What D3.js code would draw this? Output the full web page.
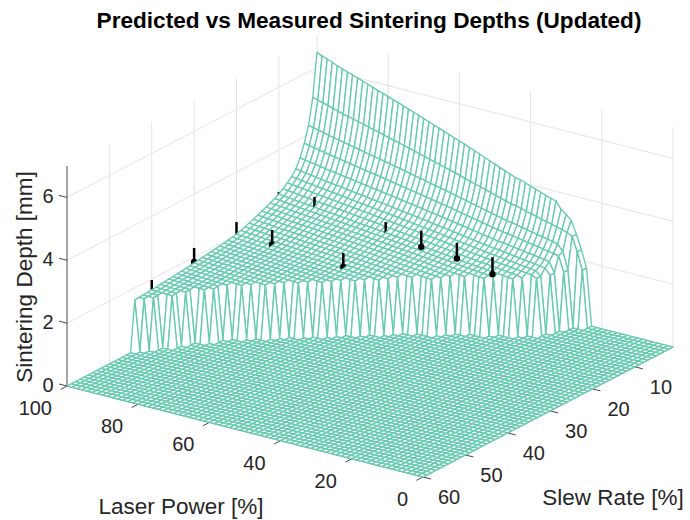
<!DOCTYPE html>
<html>
<head>
<meta charset="utf-8">
<script src="https://cdnjs.cloudflare.com/ajax/libs/d3/7.8.5/d3.min.js"></script>
<style>
html,body{margin:0;padding:0;background:#fff}
svg{display:block}
text{font-family:"Liberation Sans",Arial,sans-serif;fill:#262626}
</style>
</head>
<body>
<script>
// Tick labels
const powerTicks = [100, 80, 60, 40, 20, 0];
const slewTicks = [60, 50, 40, 30, 20, 10];
const depthTicks = [0, 2, 4, 6];

// Mesh grid lines (ascending): 71 laser power levels, 60 slew rates
const powerLevels = d3.range(0, 71).map(k => k * 100 / 70);
const slewLevels = d3.range(1, 61);

// The mesh is composed from these profiles read off the picture, not from per-cell readings.
// Depth along the Laser Power = 100 edge, for slew rate 1, 2, 3 ...
const depthAtFullPower = [6.48,5.12,4.30,3.80,3.40,3.12,2.95,2.82,2.70,2.60,2.53,2.46,2.40,2.34,2.28,2.22,2.17,2.12,2.07,2.03,2.00,1.97,1.95,1.93,1.91,1.89,1.87,1.85,1.83,1.81,1.79,1.78,1.76,1.75,1.73,1.72,1.70,1.69,1.67,1.66,1.65,1.64,1.63,1.62];
// Depth along the Slew Rate = 1 edge for power levels 24.3, 25.7, ... 100 (before the roll-off at the wall)
const firstPowerIndex = 17;
const depthAtSlowSlew = [3.33,3.39,3.44,3.51,3.57,3.63,3.69,3.74,3.79,3.85,3.91,3.96,4.02,4.08,4.11,4.18,4.24,4.30,4.37,4.43,4.50,4.56,4.63,4.69,4.76,4.82,4.88,4.94,5.00,5.06,5.12,5.18,5.24,5.30,5.36,5.42,5.48,5.54,5.59,5.65,5.71,5.76,5.82,5.88,5.94,5.99,6.05,6.10,6.16,6.22,6.29,6.35,6.41,6.48];
// Lowest laser power with non-zero depth, for slew rate 1, 2, 3 ...
const minPowerBySlew = [24,24,26,26,28,28,30,30,32,34,38,40,44,46,48,50,54,56,58,60,62,64,66,68,70,72,74,76,78,80,82,84,86,88,88,90,92,92,94,94,96,96,98,100];
// Depth ceiling for the first mesh steps above that lowest power
const wallRollOff = [1.8,2.35,2.8,3.2,3.35,3.47];

// Measured points with error stems
const stemPower = [100,100,100,100,90,90,80,70,70,60,50,40];
const stemSlew = [40,30,20,10,20,10,10,20,10,10,10,10];
const stemLow = [1.50,1.84,1.85,2.55,1.98,2.30,2.20,1.85,2.00,2.08,2.00,1.79];
const stemHigh = [1.97,2.29,2.41,2.67,2.45,2.80,2.31,2.30,2.58,2.59,2.50,2.33];
const stemInFront = [false,false,false,false,false,false,false,false,false,true,true,true];

const W = 690, H = 520;
const xFromPower = d3.scaleLinear().domain([100,0]).range([67,423]);
const yFromPower = d3.scaleLinear().domain([100,0]).range([386,477]);
const xFromSlew = d3.scaleLinear().domain([60,1]).range([0,250]);
const yFromSlew = d3.scaleLinear().domain([60,1]).range([0,-130]);
const yFromDepth = d3.scaleLinear().domain([0,7]).range([0,-220]);
const project = (p,s,z) => [xFromPower(p)+xFromSlew(s), yFromPower(p)+yFromSlew(s)+yFromDepth(z)];

const depth = (k,s) => {
  const limit = minPowerBySlew[s-1];
  if (limit === undefined || powerLevels[k] < limit) return 0;
  const g = depthAtFullPower[s-1];
  const e = depthAtSlowSlew[k-firstPowerIndex];
  const raw = 1 + (g-1)*(e-1)/(6.48-1);
  const steps = k - d3.bisectLeft(powerLevels, limit);
  return steps < wallRollOff.length ? Math.min(raw, wallRollOff[steps]) : raw;
};

const svg = d3.select("body").append("svg").attr("width",W).attr("height",H);
const line = d3.line();

// back-plane grid
const gridColor = "#e4e4e4";
const grid = svg.append("g").attr("fill","none").attr("stroke",gridColor).attr("stroke-width",1);
const gridSegs = [];
slewTicks.filter(s=>s!==60).forEach(s=>gridSegs.push([project(100,s,0),project(100,s,7)]));
gridSegs.push([project(100,1,0),project(100,1,7)]);
powerTicks.filter(p=>p!==100).forEach(p=>gridSegs.push([project(p,1,0),project(p,1,7)]));
depthTicks.forEach(z=>{
  gridSegs.push([project(100,60,z),project(100,1,z),project(0,1,z)]);
});
grid.selectAll("path").data(gridSegs).join("path").attr("d",line);

// axis lines and ticks under the surface
const axisColor = "#4a4a4a";
const axes = svg.append("g").attr("fill","none").attr("stroke",axisColor).attr("stroke-width",1);
axes.append("path").attr("d",line([project(100,60,0),project(100,60,7)]));
axes.append("path").attr("d",line([project(100,60,0),project(0,60,0)]));
axes.append("path").attr("d",line([project(0,60,0),project(0,1,0)]));
const tickD = (a,dx,dy)=>line([a,[a[0]+dx,a[1]+dy]]);
axes.selectAll(".zt").data(depthTicks).join("path").attr("class","zt").attr("d",z=>tickD(project(100,60,z),-8,-2));
axes.selectAll(".pt").data(powerTicks).join("path").attr("class","pt").attr("d",p=>tickD(project(p,60,0),-6.5,3.4));
axes.selectAll(".st").data(slewTicks).join("path").attr("class","st").attr("d",s=>tickD(project(0,s,0),8,2));

// mesh, painted back to front, one group per laser power strip
const meshColor = "#66cbb0";
const stems = stemPower.map((p,i)=>({p,s:stemSlew[i],lo:stemLow[i],hi:stemHigh[i],front:stemInFront[i]}));
const drawStem = (g,list) => {
  g.selectAll("path.stem").data(list).join("path").attr("class","stem")
    .attr("d",d=>line([project(d.p,d.s,d.lo),project(d.p,d.s,d.hi)]))
    .attr("stroke","#000").attr("stroke-width",2.5).attr("fill","none");
  g.selectAll("circle.stemdot").data(list).join("circle").attr("class","stemdot")
    .attr("cx",d=>project(d.p,d.s,d.lo)[0]).attr("cy",d=>project(d.p,d.s,d.lo)[1])
    .attr("r",d=>d.hi-d.lo<0.2?1.6:3.2).attr("fill","#000");
};
const mesh = svg.append("g");
d3.range(powerLevels.length-1,0,-1).forEach(kHi=>{
  const kLo = kHi-1;
  const pHi = powerLevels[kHi];
  const row = mesh.append("g");
  drawStem(row.append("g"), stems.filter(d=>!d.front && d.p>powerLevels[kLo]+1e-9 && d.p<=pHi+1e-9));
  const cells = d3.pairs(slewLevels).map(([s0,s1])=>[
    project(pHi,s0,depth(kHi,s0)),project(powerLevels[kLo],s0,depth(kLo,s0)),
    project(powerLevels[kLo],s1,depth(kLo,s1)),project(pHi,s1,depth(kHi,s1))]);
  row.selectAll("path.cell").data(cells).join("path").attr("class","cell")
    .attr("d",d=>line(d)+"Z").attr("fill","#fff").attr("stroke",meshColor).attr("stroke-width",1.35).attr("stroke-linejoin","round");
});
drawStem(svg.append("g"), stems.filter(d=>d.front));

// tick labels
const fs = 20;
const lab = svg.append("g").attr("font-size",fs);
lab.selectAll(".zl").data(depthTicks).join("text").attr("class","zl").text(d=>d)
  .attr("x",d=>project(100,60,d)[0]-13.5).attr("y",d=>project(100,60,d)[1]-1)
  .attr("text-anchor","end").attr("dominant-baseline","central");
lab.selectAll(".pl").data(powerTicks).join("text").attr("class","pl").text(d=>d)
  .attr("x",d=>project(d,60,0)[0]-15).attr("y",d=>project(d,60,0)[1]+22)
  .attr("text-anchor","end").attr("dominant-baseline","central");
lab.selectAll(".sl").data(slewTicks).join("text").attr("class","sl").text(d=>d)
  .attr("x",d=>project(0,d,0)[0]+15).attr("y",d=>project(0,d,0)[1]+20)
  .attr("text-anchor","start").attr("dominant-baseline","central");

const ls = 22.5;
svg.append("text").attr("x",181).attr("y",506).attr("text-anchor","middle").attr("dominant-baseline","central").attr("font-size",ls).text("Laser Power [%]");
svg.append("text").attr("x",613).attr("y",497).attr("text-anchor","middle").attr("dominant-baseline","central").attr("font-size",ls).text("Slew Rate [%]");
svg.append("text").attr("transform","translate(24,277) rotate(-90)").attr("text-anchor","middle").attr("dominant-baseline","central").attr("font-size",ls).text("Sintering Depth [mm]");
svg.append("text").attr("x",369).attr("y",20).attr("text-anchor","middle").attr("dominant-baseline","central").attr("font-size",22.6).attr("font-weight","bold").style("fill","#000").text("Predicted vs Measured Sintering Depths (Updated)");
</script>
</body>
</html>
